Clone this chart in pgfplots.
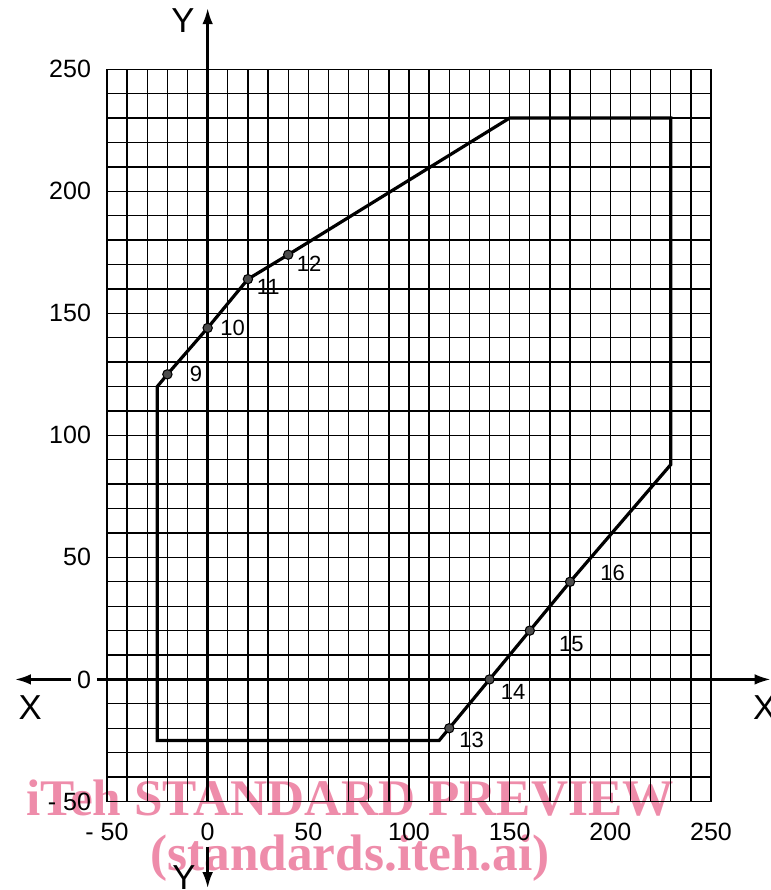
\documentclass[border=0pt]{standalone}
\usepackage{pgfplots}
\pgfplotsset{compat=1.18}
\usepackage{fontspec}
\setmainfont{Liberation Sans}
\newfontfamily\wmfont{Liberation Serif}
\usetikzlibrary{arrows.meta}
\definecolor{wmpink}{RGB}{238,140,170}
\begin{document}
\begin{tikzpicture}[x=1pt,y=1pt]
% watermark sits behind the chart
\node[text=wmpink, font=\wmfont\bfseries\fontsize{38.5}{38.5}\selectfont] at (182.25,2.6) {iTeh STANDARD PREVIEW};
\node[text=wmpink, font=\wmfont\bfseries\fontsize{38.5}{38.5}\selectfont] at (182.25,-42.4) {(standards.iteh.ai)};
\begin{axis}[
    at={(0,0)}, anchor=south west,
    scale only axis,
    width=453pt, height=549.2pt,
    xmin=-50, xmax=250, ymin=-50, ymax=250,
    xtick={-50,0,...,250},
    ytick={-50,0,...,250},
    minor xtick={-40,-30,...,240},
    minor ytick={-40,-30,...,240},
    xticklabels={- 50,0,50,100,150,200,250},
    yticklabels={- 50,0,50,100,150,200,250},
    major tick length=0pt, minor tick length=0pt,
    grid=both,
    major grid style={black, line width=1pt},
    minor grid style={black, line width=1pt},
    axis line style={black, line width=1pt},
    tick label style={font=\fontsize{18.75}{20}\selectfont},
    xticklabel style={yshift=-12.5pt},
    yticklabel style={xshift=-8.5pt},
    clip=false,
]
% axes with arrows
\draw[line width=1.8pt, {Latex[length=12pt,width=8pt]}-] (axis cs:-95.7,0) -- (axis cs:-68,0);
\draw[line width=1.8pt, -{Latex[length=12pt,width=8pt]}] (axis cs:-55,0) -- (axis cs:279.6,0);
\draw[line width=1.8pt, -{Latex[length=12pt,width=8pt]}] (axis cs:0,-50) -- (axis cs:0,275);
\draw[line width=1.8pt, -{Latex[length=12pt,width=8pt]}] (axis cs:0,-68.6) -- (axis cs:0,-85.5);
\node[font=\fontsize{26}{26}\selectfont] at (axis cs:-88.2,-11.7) {X};
\node[font=\fontsize{26}{26}\selectfont] at (axis cs:276.7,-11.7) {X};
\node[font=\fontsize{26}{26}\selectfont] at (axis cs:-12.3,269.8) {Y};
\node[font=\fontsize{26}{26}\selectfont] at (axis cs:-11.8,-81.3) {Y};
% outline
\addplot[line width=2.4pt, no markers] coordinates {
    (-25,120) (-20,125) (0,144) (20,164) (40,174) (150,230) (230,230)
    (230,88) (180,40) (160,20) (140,0) (120,-20) (115,-25) (-25,-25) (-25,120)
} -- cycle;
% numbered points
\addplot[only marks, mark=*, mark size=3.5pt, mark options={fill=black!70, draw=black, line width=0.8pt}] coordinates {
    (-20,125) (0,144) (20,164) (40,174) (120,-20) (140,0) (160,20) (180,40)
};
\begin{scope}[font=\fontsize{16.5}{17}\selectfont]
\node at (axis cs:-5.8,125.1) {9};
\node at (axis cs:12.4,143.9) {10};
\node at (axis cs:30.1,160.6) {11};
\node at (axis cs:50.4,170.2) {12};
\node at (axis cs:131.1,-24.8) {13};
\node at (axis cs:151.7,-5.1) {14};
\node at (axis cs:180.7,14.4) {15};
\node at (axis cs:201.1,43.8) {16};
\end{scope}
\end{axis}
\pgfresetboundingbox
\path[use as bounding box] (-80.25,-66.4) rectangle (498,601.1);
\end{tikzpicture}
\end{document}
